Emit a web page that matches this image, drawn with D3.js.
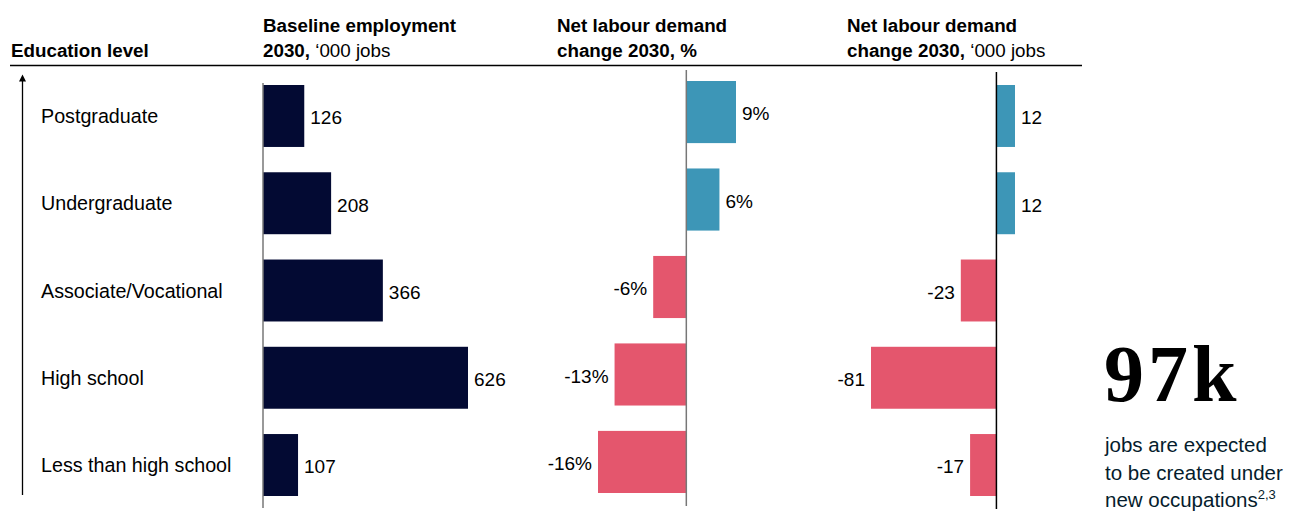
<!DOCTYPE html>
<html>
<head>
<meta charset="utf-8">
<script src="https://cdnjs.cloudflare.com/ajax/libs/d3/7.8.5/d3.min.js"></script>
<style>
  html, body { margin: 0; padding: 0; background: #fff; }
  svg { display: block; font-family: "Liberation Sans", Arial, sans-serif; }
</style>
</head>
<body>
<div id="chart"></div>
<script>
// data
var categories = ['Postgraduate', 'Undergraduate', 'Associate/Vocational', 'High school', 'Less than high school'];
var baselineJobs = [126, 208, 366, 626, 107];
var changePct = [9, 6, -6, -13, -16];
var changeJobs = [12, 12, -23, -81, -17];
var bigNumber = '97k';
var noteLines = ['jobs are expected', 'to be created under', 'new occupations'];

var width = 1306, height = 513;
var navy = '#030a33', blue = '#3d96b7', red = '#e4566d';

var svg = d3.select('#chart').append('svg')
    .attr('width', width)
    .attr('height', height);

// header
var head = svg.append('g').style('font-size', '18.8px').style('fill', '#000');
head.append('text').attr('x', 11).attr('y', 56.5)
    .style('font-weight', 'bold').text('Education level');

function header(x, line1, bold2, reg2) {
    head.append('text').attr('x', x).attr('y', 32)
        .style('font-weight', 'bold').text(line1);
    var t = head.append('text').attr('x', x).attr('y', 56.5);
    t.append('tspan').style('font-weight', 'bold').text(bold2);
    if (reg2) t.append('tspan').text(reg2);
}
header(263, 'Baseline employment', '2030,', ' \u2018000 jobs');
header(557, 'Net labour demand', 'change 2030, %', null);
header(847, 'Net labour demand', 'change 2030,', ' \u2018000 jobs');

svg.append('line')
    .attr('x1', 10).attr('x2', 1082)
    .attr('y1', 65.5).attr('y2', 65.5)
    .style('stroke', '#000').style('stroke-width', 1.5);

// arrow on the left
svg.append('defs').append('marker')
    .attr('id', 'arrow')
    .attr('viewBox', '0 0 10 10')
    .attr('refX', 2).attr('refY', 5)
    .attr('markerWidth', 9).attr('markerHeight', 7)
    .attr('markerUnits', 'userSpaceOnUse')
    .attr('orient', 'auto')
    .append('path')
    .attr('d', 'M0,0 L10,5 L0,10 Z')
    .style('fill', '#000');
svg.append('line')
    .attr('x1', 22.5).attr('x2', 22.5)
    .attr('y1', 495).attr('y2', 80)
    .style('stroke', '#000').style('stroke-width', 1.3)
    .attr('marker-end', 'url(#arrow)');

// row labels
var yRows = d3.scaleBand()
    .domain(categories)
    .range([85, 496])
    .paddingInner(0.29);

svg.append('g').selectAll('text')
    .data(categories)
    .enter()
    .append('text')
    .attr('x', 41)
    .attr('y', function (d) { return yRows(d) + yRows.bandwidth() / 2; })
    .attr('dy', '0.36em')
    .style('font-size', '19.7px')
    .style('fill', '#000')
    .text(function (d) { return d; });

// panels
function drawPanel(values, domain, range, yRange, axisY, axisColor, fmt, colorFn) {
    var x = d3.scaleLinear().domain(domain).range(range);
    var y = d3.scaleBand().domain(categories).range(yRange).paddingInner(0.29);
    var g = svg.append('g');

    g.selectAll('rect')
        .data(values)
        .enter()
        .append('rect')
        .attr('x', function (d) { return x(Math.min(0, d)); })
        .attr('y', function (d, i) { return y(categories[i]); })
        .attr('width', function (d) { return Math.abs(x(d) - x(0)); })
        .attr('height', y.bandwidth())
        .style('fill', function (d) { return colorFn(d); });

    g.append('line')
        .attr('x1', x(0)).attr('x2', x(0))
        .attr('y1', axisY[0]).attr('y2', axisY[1])
        .style('stroke', axisColor).style('stroke-width', 1.5);

    g.selectAll('text')
        .data(values)
        .enter()
        .append('text')
        .attr('x', function (d) { return d < 0 ? x(d) - 6 : x(d) + 6; })
        .attr('y', function (d, i) { return y(categories[i]) + y.bandwidth() / 2 + 1.5; })
        .attr('dy', '0.36em')
        .attr('text-anchor', function (d) { return d < 0 ? 'end' : 'start'; })
        .style('font-size', '19px')
        .style('fill', '#000')
        .text(fmt);
}

drawPanel(baselineJobs, [0, 626], [263, 468], [85, 496], [83, 508], '#777',
    function (d) { return d; }, function () { return navy; });
drawPanel(changePct, [-16, 9], [598, 736], [81, 493], [70, 506], '#777',
    function (d) { return d + '%'; }, function (d) { return d < 0 ? red : blue; });
drawPanel(changeJobs, [-81, 12], [871, 1015], [85, 496], [72, 509], '#000',
    function (d) { return d; }, function (d) { return d < 0 ? red : blue; });

// side note
svg.append('text')
    .attr('x', 1104).attr('y', 401)
    .style('font-family', '"Liberation Serif", "DejaVu Serif", serif')
    .style('font-weight', 'bold')
    .style('font-size', '80px')
    .style('letter-spacing', '4px')
    .style('fill', '#000')
    .text(bigNumber);

var note = svg.append('g')
    .style('font-size', '20.5px')
    .style('fill', '#051c2c');
noteLines.forEach(function (line, i) {
    var t = note.append('text')
        .attr('x', 1105)
        .attr('y', 452 + i * 27.5)
        .text(line);
    if (i === noteLines.length - 1) {
        t.append('tspan')
            .attr('dy', -8)
            .style('font-size', '13px')
            .text('2,3');
    }
});
</script>
</body>
</html>
